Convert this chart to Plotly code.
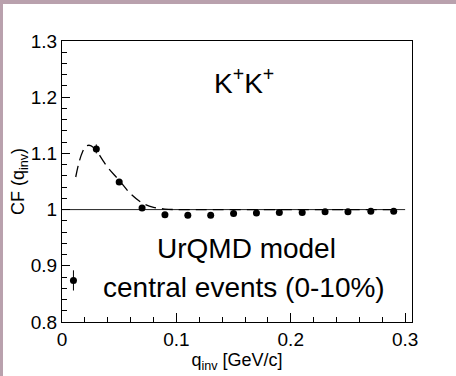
import plotly.graph_objects as go

# Measured correlation function (points with statistical errors)
q_inv = [0.01, 0.03, 0.05, 0.07, 0.09, 0.11, 0.13, 0.15, 0.17, 0.19, 0.21, 0.23, 0.25, 0.27, 0.29]
cf = [0.874, 1.108, 1.049, 1.003, 0.991, 0.990, 0.990, 0.993, 0.994, 0.995, 0.995, 0.996, 0.996, 0.997, 0.997]
cf_err = [0.018, 0.008, 0.004, 0.002, 0.001, 0.001, 0.001, 0.001, 0.001, 0.001, 0.001, 0.001, 0.001, 0.001, 0.001]

# Model curve (dashed)
q_fit = [0.012, 0.015, 0.018, 0.021, 0.025, 0.03, 0.035, 0.04, 0.05, 0.06, 0.07, 0.08, 0.09, 0.1, 0.12, 0.15, 0.2, 0.25, 0.29]
cf_fit = [1.058, 1.085, 1.103, 1.113, 1.114, 1.105, 1.09, 1.075, 1.052, 1.028, 1.012, 1.004, 1.001, 1.0, 1.0, 1.0, 1.0, 1.0, 1.0]

# Unity reference line
ref_x = [0.0, 0.3]
ref_y = [1.0, 1.0]

x_ticks = [0, 0.1, 0.2, 0.3]
y_ticks = [0.8, 0.9, 1.0, 1.1, 1.2, 1.3]

FONT = "Liberation Sans, Arial, sans-serif"
FRAME = "#b9a1ad"

fig = go.Figure()

fig.add_trace(go.Scatter(x=ref_x, y=ref_y, mode="lines",
                         line=dict(color="#222222", width=1), hoverinfo="skip"))
fig.add_trace(go.Scatter(x=q_fit, y=cf_fit, mode="lines",
                         line=dict(color="black", width=1.3, dash="11px,6px", shape="spline")))
fig.add_trace(go.Scatter(x=q_inv, y=cf, mode="markers",
                         marker=dict(color="black", size=7, symbol="circle"),
                         error_y=dict(type="data", array=cf_err, color="black",
                                      thickness=1, width=0)))

fig.update_layout(
    width=456, height=376,
    margin=dict(l=62, r=44, t=41, b=54),
    paper_bgcolor="white", plot_bgcolor="white",
    showlegend=False,
    font=dict(family=FONT, color="black"),
    xaxis=dict(
        range=[0, 0.306], tickvals=x_ticks, ticktext=["0", "0.1", "0.2", "0.3"],
        showgrid=False, zeroline=False,
        showline=True, linecolor="black", linewidth=1, mirror=True,
        ticks="inside", ticklen=9, tickcolor="black", tickwidth=1,
        minor=dict(dtick=0.02, tick0=0, ticks="inside", ticklen=5,
                   tickcolor="black", showgrid=False),
        tickfont=dict(size=19, family=FONT),
        title=dict(text="q<sub>inv</sub> [GeV/c]", font=dict(size=18, family=FONT), standoff=3),
    ),
    yaxis=dict(
        range=[0.8, 1.3], tickvals=y_ticks, ticktext=["0.8", "0.9", "1", "1.1", "1.2", "1.3"],
        showgrid=False, zeroline=False,
        showline=True, linecolor="black", linewidth=1, mirror=True,
        ticks="inside", ticklen=8, tickcolor="black", tickwidth=1,
        minor=dict(dtick=0.02, tick0=0.8, ticks="inside", ticklen=5,
                   tickcolor="black", showgrid=False),
        tickfont=dict(size=19, family=FONT),
        title=dict(text="CF (q<sub>inv</sub>)", font=dict(size=18, family=FONT), standoff=1),
    ),
    shapes=[
        # top and left strips of the outer frame
        dict(type="rect", xref="paper", yref="paper", x0=-0.3, x1=1.3,
             y0=(322 - 4) / 281, y1=1.3, fillcolor=FRAME, line=dict(width=0), layer="below"),
        dict(type="rect", xref="paper", yref="paper", x0=-0.3, x1=(3 - 62) / 350,
             y0=-0.3, y1=1.3, fillcolor=FRAME, line=dict(width=0), layer="below"),
    ],
    annotations=[
        dict(x=0.521, y=1.228, xref="paper", yref="y", text="K<sup>+</sup>K<sup>+</sup>",
             showarrow=False, font=dict(size=28, family=FONT)),
        dict(x=0.526, y=0.930, xref="paper", yref="y", text="UrQMD model",
             showarrow=False, font=dict(size=28, family=FONT)),
        dict(x=0.519, y=0.862, xref="paper", yref="y", text="central events (0-10%)",
             showarrow=False, font=dict(size=28, family=FONT)),
    ],
)

fig.write_html("out.html")
